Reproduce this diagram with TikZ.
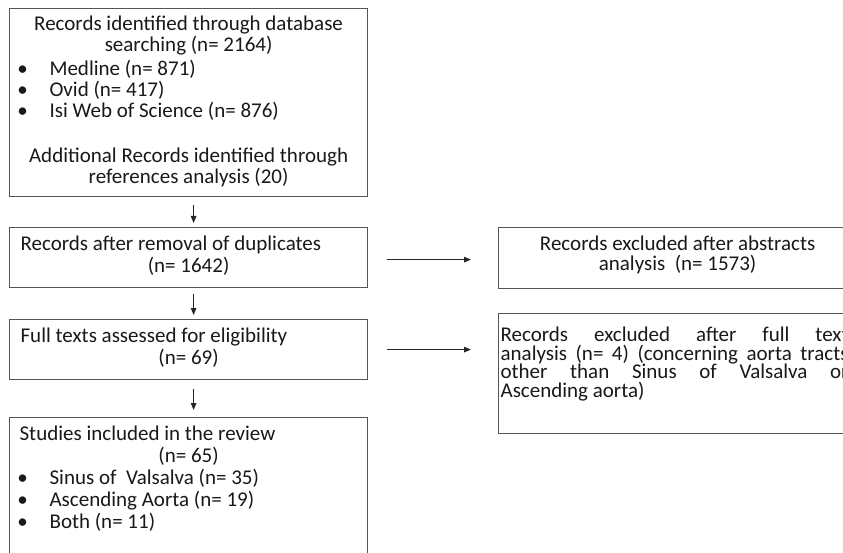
\documentclass[tikz,border=0pt]{standalone}
\usepackage{fontspec}
\setmainfont{Carlito}
\usetikzlibrary{arrows.meta,calc}
\definecolor{boxgray}{RGB}{85,85,85}
\definecolor{txt}{RGB}{25,25,25}
\newcommand\boxtext[4]{\parbox[c][#2][t]{#1}{\color{txt}\fontsize{21}{#3}\selectfont\lineskiplimit=-30pt\parskip=0pt\relax #4}}
\newcommand\bul{\hspace*{13pt}\makebox[0pt]{\textbullet}\hspace*{27pt}}
\tikzset{
  box/.style={draw=boxgray, line width=1.2pt, inner sep=0pt, anchor=north west},
  arr/.style={draw=black!85, line width=1.1pt, -{Triangle[length=7pt,width=5.5pt]}},
}
\begin{document}
\begin{tikzpicture}[x=1pt,y=-1pt]
\useasboundingbox (0,0) rectangle (843,553);
\fill[white] (0,0) rectangle (843,553);
\clip (0,0) rectangle (843,553);

\node[box] (b1) at (9,8) {\boxtext{358pt}{188pt}{21pt}{\centering\rule{0pt}{22pt}Records identified through database\\searching (n= 2164)\par
\raggedright\vspace{3pt}\bul Medline (n= 871)\\\bul Ovid (n= 417)\\\bul Isi Web of Science (n= 876)\par
\centering\vspace{24pt}Additional Records identified through\\references analysis (20)\par}};

\node[box] (b2) at (9,227) {\boxtext{358pt}{60pt}{22pt}{\raggedright\rule{0pt}{23pt}\hspace*{11pt}Records after removal of duplicates\par\centering(n= 1642)\par}};

\node[box] (b3) at (9,319) {\boxtext{358pt}{60pt}{22pt}{\raggedright\rule{0pt}{23pt}\hspace*{11pt}Full texts assessed for eligibility\par\centering(n= 69)\par}};

\node[box] (b4) at (9,417) {\boxtext{358pt}{200pt}{22pt}{\raggedright\rule{0pt}{23pt}\hspace*{10pt}Studies included in the review\par\centering(n= 65)\par
\raggedright\bul Sinus of\ \ Valsalva (n= 35)\\\bul Ascending Aorta (n= 19)\\\bul Both (n= 11)\par}};

\node[box] (bA) at (498,227) {\boxtext{358pt}{61pt}{19.5pt}{\centering\rule{0pt}{23pt}Records excluded after abstracts\\analysis\ \ (n= 1573)\par}};

\node[box] (bB) at (498,313) {\boxtext{358pt}{120pt}{18.5pt}{\leftskip=2pt\rightskip=8pt\rule{0pt}{28pt}Records excluded after full text\linebreak analysis (n= 4) (concerning aorta tracts\linebreak other than Sinus of Valsalva or\linebreak Ascending aorta)\par}};

\draw[arr, shorten <=8pt, shorten >=4pt] ([xshift=5pt]b1.south) -- ([xshift=5pt]b2.north);
\draw[arr, shorten <=6pt, shorten >=4pt] ([xshift=5pt]b2.south) -- ([xshift=5pt]b3.north);
\draw[arr, shorten <=9pt, shorten >=7pt] ([xshift=5pt]b3.south) -- ([xshift=5pt]b4.north);
\draw[arr, shorten <=19pt, shorten >=27pt] ([yshift=-2pt]b2.east) -- ([yshift=-2pt]b2.east -| bA.west);
\draw[arr, shorten <=19pt, shorten >=27pt] (b3.east) -- (b3.east -| bB.west);
\end{tikzpicture}
\end{document}
